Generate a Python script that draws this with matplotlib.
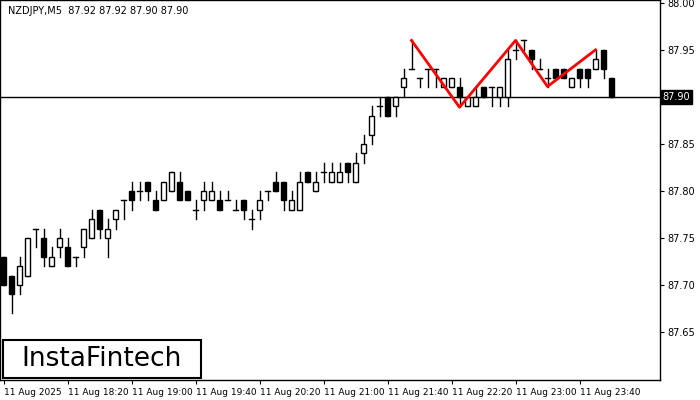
import matplotlib
matplotlib.use("Agg")
import matplotlib.pyplot as plt
from matplotlib.patches import Rectangle

# candle data (M5)
opens = [87.73, 87.71, 87.70, 87.71, 87.76, 87.75, 87.72, 87.74, 87.74, 87.73,
         87.74, 87.75, 87.78, 87.75, 87.77, 87.79, 87.80, 87.80, 87.81, 87.79,
         87.79, 87.80, 87.81, 87.80, 87.78, 87.79, 87.79, 87.79, 87.79, 87.78,
         87.79, 87.77, 87.78, 87.80, 87.81, 87.81, 87.78, 87.78, 87.82, 87.80,
         87.82, 87.81, 87.81, 87.83, 87.81, 87.84, 87.86, 87.89, 87.90, 87.89,
         87.91, 87.93, 87.92, 87.93, 87.93, 87.91, 87.91, 87.91, 87.89, 87.89,
         87.91, 87.91, 87.90, 87.90, 87.95, 87.96, 87.95, 87.93, 87.92, 87.93,
         87.93, 87.91, 87.93, 87.93, 87.93, 87.95, 87.92]
highs = [87.73, 87.71, 87.73, 87.75, 87.76, 87.76, 87.74, 87.76, 87.75, 87.73,
         87.76, 87.78, 87.78, 87.77, 87.78, 87.79, 87.81, 87.81, 87.81, 87.80,
         87.81, 87.82, 87.82, 87.80, 87.79, 87.81, 87.81, 87.80, 87.80, 87.79,
         87.79, 87.78, 87.80, 87.80, 87.82, 87.81, 87.80, 87.82, 87.82, 87.82,
         87.83, 87.83, 87.83, 87.83, 87.84, 87.86, 87.89, 87.90, 87.90, 87.90,
         87.93, 87.96, 87.92, 87.93, 87.93, 87.92, 87.92, 87.92, 87.90, 87.91,
         87.91, 87.91, 87.91, 87.95, 87.96, 87.96, 87.95, 87.94, 87.93, 87.93,
         87.93, 87.92, 87.93, 87.93, 87.95, 87.95, 87.92]
lows = [87.70, 87.67, 87.69, 87.71, 87.74, 87.72, 87.72, 87.73, 87.72, 87.72,
        87.73, 87.75, 87.75, 87.73, 87.76, 87.77, 87.78, 87.79, 87.79, 87.78,
        87.79, 87.80, 87.79, 87.79, 87.77, 87.78, 87.79, 87.78, 87.79, 87.78,
        87.77, 87.76, 87.77, 87.79, 87.80, 87.78, 87.78, 87.78, 87.81, 87.80,
        87.81, 87.81, 87.81, 87.81, 87.81, 87.83, 87.85, 87.88, 87.88, 87.88,
        87.90, 87.93, 87.91, 87.91, 87.91, 87.91, 87.91, 87.89, 87.89, 87.89,
        87.90, 87.89, 87.89, 87.89, 87.94, 87.95, 87.93, 87.93, 87.91, 87.92,
        87.92, 87.91, 87.91, 87.91, 87.93, 87.92, 87.90]
closes = [87.70, 87.69, 87.72, 87.75, 87.76, 87.73, 87.73, 87.75, 87.72, 87.73,
          87.76, 87.77, 87.76, 87.76, 87.78, 87.79, 87.79, 87.80, 87.80, 87.78,
          87.81, 87.82, 87.79, 87.79, 87.78, 87.80, 87.80, 87.78, 87.79, 87.78,
          87.78, 87.77, 87.79, 87.80, 87.80, 87.79, 87.79, 87.81, 87.81, 87.81,
          87.82, 87.82, 87.82, 87.82, 87.83, 87.85, 87.88, 87.89, 87.88, 87.90,
          87.92, 87.93, 87.92, 87.93, 87.93, 87.92, 87.92, 87.90, 87.90, 87.90,
          87.90, 87.91, 87.91, 87.94, 87.95, 87.96, 87.94, 87.93, 87.92, 87.92,
          87.92, 87.92, 87.92, 87.92, 87.94, 87.93, 87.90]

# pattern (red zigzag)
pattern_idx = [51, 57, 64, 68, 74]
pattern_val = [87.96, 87.889, 87.96, 87.911, 87.95]

current_price = 87.90
price_ticks = [87.65, 87.70, 87.75, 87.80, 87.85, 87.90, 87.95, 88.00]
time_idx = [0, 8, 16, 24, 32, 40, 48, 56, 64, 72]
time_labels = ["11 Aug 2025", "11 Aug 18:20", "11 Aug 19:00", "11 Aug 19:40",
               "11 Aug 20:20", "11 Aug 21:00", "11 Aug 21:40", "11 Aug 22:20",
               "11 Aug 23:00", "11 Aug 23:40"]

fig = plt.figure(figsize=(7, 4), dpi=100)
ax = fig.add_axes([0.0, 0.05, 660 / 700, 0.95])
ax.set_xlim(-0.44, 82.06)
ax.set_ylim(87.599, 88.003)

w = 0.6
for i in range(len(opens)):
    o, h, l, c = opens[i], highs[i], lows[i], closes[i]
    ax.plot([i, i], [l, h], color="black", lw=1, zorder=2)
    if o == c:
        ax.plot([i - w / 2, i + w / 2], [o, o], color="black", lw=1, zorder=3)
    else:
        face = "white" if c > o else "black"
        ax.add_patch(Rectangle((i - w / 2, min(o, c)), w, abs(c - o),
                               facecolor=face, edgecolor="black", lw=1, zorder=3))

ax.axhline(current_price, color="black", lw=1, zorder=1)
ax.plot(pattern_idx, pattern_val, color="#ff0000", lw=2, zorder=4)

ax.yaxis.tick_right()
ax.set_yticks(price_ticks)
# the current price box covers its own tick label
ax.set_yticklabels(["" if abs(p - current_price) < 1e-9 else f"{p:.2f}"
                    for p in price_ticks], fontsize=7)
ax.tick_params(axis="y", length=3, pad=2)
ax.set_xticks(time_idx)
ax.set_xticklabels(time_labels, fontsize=6.5, ha="left")
ax.tick_params(axis="x", length=3, pad=3)
for s in ax.spines.values():
    s.set_linewidth(1)

# current price label on the right
ax.text(1.004, current_price, f"{current_price:.2f}", transform=ax.get_yaxis_transform(),
        fontsize=7, color="white", va="center", ha="left",
        bbox=dict(facecolor="black", edgecolor="black", pad=1.5))

ax.text(0.012, 0.985, "NZDJPY,M5  87.92 87.92 87.90 87.90", transform=ax.transAxes,
        fontsize=7, va="top", ha="left")

# logo box
fig.patches.append(Rectangle((3 / 700, 22 / 400), 198 / 700, 38 / 400,
                             transform=fig.transFigure, facecolor="white",
                             edgecolor="black", lw=1.5, zorder=10))
fig.text(102 / 700, 41 / 400, "InstaFintech", fontsize=19, ha="center", va="center",
         family="DejaVu Sans", zorder=11)

fig.savefig("out.png", dpi=100)
